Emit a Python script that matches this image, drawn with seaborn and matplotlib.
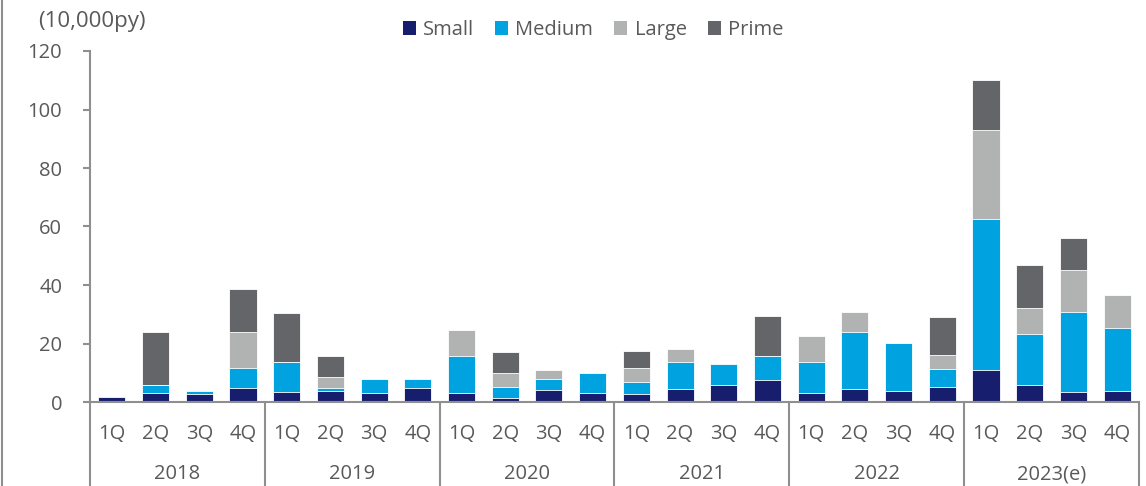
import numpy as np
import pandas as pd
import matplotlib
matplotlib.use("Agg")
import matplotlib.pyplot as plt
from matplotlib.patches import Patch
from matplotlib.lines import Line2D
import matplotlib.transforms as mtransforms
import seaborn as sns

# Quarterly supply by office grade (10,000 py)
years = ["2018", "2019", "2020", "2021", "2022", "2023(e)"]
quarters = ["1Q", "2Q", "3Q", "4Q"]

small = [1.7, 3.1, 2.6, 4.9,
         3.4, 3.8, 3.1, 4.8,
         3.1, 1.4, 4.1, 3.1,
         2.7, 4.4, 5.8, 7.5,
         3.1, 4.4, 3.9, 5.0,
         10.9, 5.7, 3.4, 3.8]
medium = [0.0, 2.6, 1.2, 6.6,
          10.2, 1.0, 4.7, 3.2,
          12.6, 3.7, 3.7, 6.7,
          4.0, 9.2, 7.3, 8.1,
          10.5, 19.5, 16.3, 6.4,
          51.6, 17.7, 27.4, 21.5]
large = [0.0, 0.0, 0.0, 12.6,
         0.0, 3.7, 0.0, 0.0,
         8.8, 4.7, 3.1, 0.0,
         4.9, 4.4, 0.0, 0.0,
         9.1, 6.7, 0.0, 4.6,
         30.4, 8.6, 14.3, 11.4]
prime = [0.0, 18.4, 0.0, 14.7,
         16.7, 7.2, 0.0, 0.0,
         0.0, 7.3, 0.0, 0.0,
         5.7, 0.0, 0.0, 13.7,
         0.0, 0.0, 0.0, 13.1,
         17.1, 14.7, 11.1, 0.0]

series_names = ["Small", "Medium", "Large", "Prime"]
series_colors = ["#171e6d", "#00a3e0", "#b1b2b2", "#636569"]

TEXT = "#595959"
LINE = "#8f8f8f"

sns.set_theme(style="white")
plt.rcParams["font.family"] = ["Open Sans", "DejaVu Sans"]

periods = [f"{y} {q}" for y in years for q in quarters]
df = pd.DataFrame({"period": periods, "Small": small, "Medium": medium,
                   "Large": large, "Prime": prime})
cum = df[series_names].cumsum(axis=1)
cum["period"] = periods

W, H = 1146, 486
fig = plt.figure(figsize=(W / 100, H / 100), dpi=100)
ax = fig.add_axes([90 / W, 1 - 402 / H, (1139 - 90) / W, (402 - 51) / H])

# Stacked bars: draw cumulative totals from the top segment down
for name, color in reversed(list(zip(series_names, series_colors))):
    sns.barplot(data=cum, x="period", y=name, order=periods, color=color,
                saturation=1, width=0.62, edgecolor="white", linewidth=0.6,
                ax=ax)

ax.set_xlabel("")
ax.set_ylabel("")
ax.set_xlim(-0.5, len(periods) - 0.5)
ax.set_ylim(0, 120)
ax.set_yticks(np.arange(0, 121, 20))

for side in ["top", "right"]:
    ax.spines[side].set_visible(False)
for side in ["left", "bottom"]:
    ax.spines[side].set_color(LINE)
    ax.spines[side].set_linewidth(1.5)

ax.tick_params(axis="y", direction="out", length=5, width=1.5, color=LINE,
               pad=15, labelsize=14.5, labelcolor=TEXT, left=True)
ax.set_xticks(range(len(periods)))
ax.set_xticklabels(quarters * len(years))
ax.tick_params(axis="x", length=0, pad=16, labelsize=14.5, labelcolor=TEXT)

# Year group separators and labels beneath the quarter labels
trans = mtransforms.blended_transform_factory(ax.transData, ax.transAxes)
for i in range(len(years) + 1):
    xs = -0.5 + 4 * i
    ax.plot([xs, xs], [0, -0.35], transform=trans, clip_on=False,
            color=LINE, lw=1.5)
for i, y in enumerate(years):
    ax.text(1.5 + 4 * i, -(474 - 402) / 351, y, transform=trans,
            ha="center", va="center", fontsize=14.5, color=TEXT)

# Unit label
fig.text(38 / W, 1 - 22 / H, "(10,000py)", ha="left", va="center",
         fontsize=16, color=TEXT)

# Legend
handles = [Patch(facecolor=c, edgecolor="none") for c in series_colors]
leg = fig.legend(handles, series_names, loc="center",
                 bbox_to_anchor=(593 / W, 1 - 30 / H), ncol=4, frameon=False,
                 handlelength=0.65, handleheight=0.65, handletextpad=0.35,
                 columnspacing=1.05, fontsize=14.5)
for t in leg.get_texts():
    t.set_color(TEXT)

# Left frame line
fig.add_artist(Line2D([2 / W, 2 / W], [0, 1], transform=fig.transFigure,
                      color=LINE, lw=1.5))

fig.savefig("out.png", dpi=100)
